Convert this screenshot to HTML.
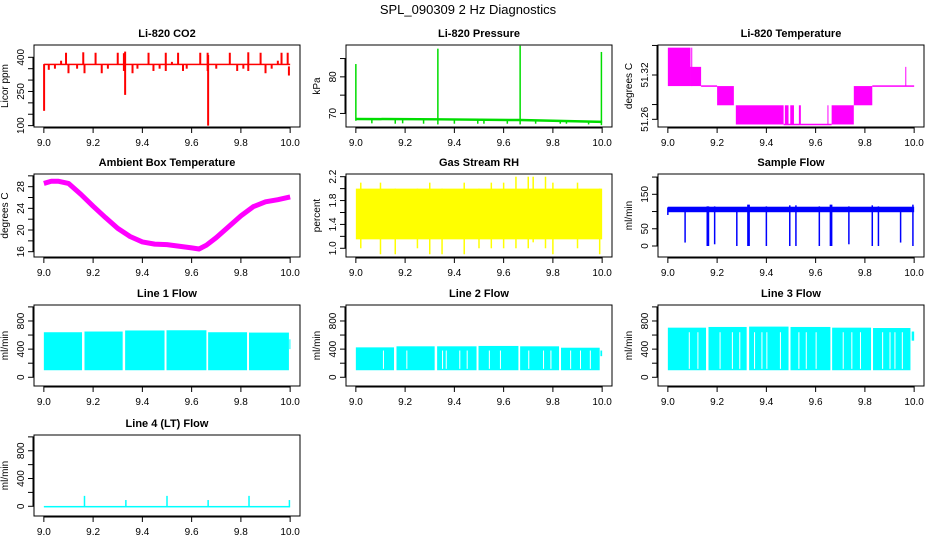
<!DOCTYPE html>
<html><head><meta charset="utf-8"><style>
body{margin:0;background:#fff}
svg{display:block;font-family:"Liberation Sans",Arial,sans-serif}
</style></head><body>
<svg id="c" width="936" height="540" viewBox="0 0 936 540">
<rect width="936" height="540" fill="#fff"/>
<text x="468" y="14" text-anchor="middle" font-size="13">SPL_090309  2 Hz Diagnostics</text>
</svg>
<script>
// ---- data (x in hours-ish units 9..10) ----
const xTicks = [9.0, 9.2, 9.4, 9.6, 9.8, 10.0];
const xTickLabels = ["9.0", "9.2", "9.4", "9.6", "9.8", "10.0"];

// CO2
const co2Base = [[9.0, 10.0, 366, 372]];
const co2Spikes = [[9.001,165,370],[9.09,370,420],[9.16,370,422],[9.165,330,370],[9.21,370,420],[9.30,370,420],[9.325,340,418],[9.33,235,425],[9.425,370,420],[9.495,340,420],[9.545,370,420],[9.635,370,420],[9.665,340,420],[9.667,100,410],[9.755,370,420],[9.83,340,422],[9.88,370,420],[9.965,370,420],[9.99,370,420],[9.995,320,360],[9.02,345,370],[9.045,350,370],[9.1,330,370],[9.135,350,370],[9.235,330,370],[9.26,350,370],[9.36,330,370],[9.38,350,370],[9.445,340,370],[9.47,350,370],[9.565,340,370],[9.58,350,370],[9.7,350,370],[9.785,340,370],[9.81,350,370],[9.9,330,370],[9.925,350,370],[9.07,370,385],[9.52,370,380],[9.95,370,385]];

// Pressure
const presLine = [[9.0,68.5],[9.33,68.4],[9.667,68.2],[10.0,67.7]];
const presSpikes = [[9.0,68,83.5],[9.333,67,87.7],[9.667,67,88.5],[9.997,66.8,86.8],[9.065,67.3,68.5],[9.16,67.2,68.5],[9.19,67.3,68.5],[9.275,67.2,68.5],[9.4,67.2,68.5],[9.495,67.2,68.5],[9.52,67.2,68.5],[9.615,67.2,68.3],[9.73,67.2,68.3],[9.83,67.2,68.2],[9.855,67.2,68.2],[9.945,67.0,68]];

// Li-820 temperature: [x0,x1,lo,hi]
const tempBands = [[9.0,9.092,51.305,51.357],[9.092,9.135,51.305,51.331],[9.135,9.2,51.304,51.306],[9.2,9.268,51.279,51.305],[9.276,9.47,51.253,51.279],[9.475,9.49,51.253,51.279],[9.497,9.512,51.253,51.279],[9.532,9.54,51.253,51.279],[9.47,9.665,51.252,51.254],[9.648,9.652,51.253,51.279],[9.665,9.755,51.253,51.279],[9.755,9.83,51.279,51.305],[9.83,10.0,51.304,51.306],[9.964,9.966,51.305,51.331],[9.095,9.097,51.305,51.357]];

// Ambient box temperature
const ambX = [9.0,9.03,9.06,9.1,9.15,9.2,9.25,9.3,9.35,9.4,9.45,9.5,9.55,9.6,9.63,9.66,9.7,9.75,9.8,9.85,9.9,9.95,10.0];
const ambY = [28.6,29.0,29.0,28.6,26.6,24.4,22.3,20.3,18.8,17.8,17.4,17.3,17.0,16.7,16.5,17.2,18.6,20.6,22.6,24.3,25.2,25.6,26.1];

// Gas stream RH
const rhBands = [[9.0,10.0,1.15,2.0]];
const rhSpikes = [[9.02,1.0,2.1],[9.1,0.9,2.1],[9.16,0.9,2.0],[9.3,0.9,2.1],[9.35,0.9,2.0],[9.44,0.9,2.1],[9.55,1.0,2.1],[9.65,1.0,2.2],[9.7,1.0,2.2],[9.72,1.1,2.2],[9.77,1.0,2.2],[9.8,0.9,2.1],[9.9,1.0,2.1],[9.99,0.9,2.0],[9.25,1.0,2.0],[9.5,1.0,2.0],[9.6,1.0,2.1]];

// Sample flow
const sfBands = [[9.0,10.0,98,114]];
const sfSpikes = [[9.07,10,110],[9.16,0,115],[9.165,0,115],[9.19,5,115],[9.28,0,112],[9.325,0,120],[9.33,0,120],[9.4,0,115],[9.495,0,118],[9.52,0,118],[9.615,0,115],[9.66,0,120],[9.665,0,120],[9.735,5,115],[9.83,0,118],[9.855,0,115],[9.945,10,112],[9.995,0,120],[9.0,90,112]];

// Line flows: [x0,x1,lo,hi]
const line1Bands = [[9.0,9.155,100,640],[9.165,9.32,100,650],[9.33,9.49,100,665],[9.498,9.66,100,668],[9.667,9.825,100,640],[9.833,9.995,100,635],[9.997,10.0,400,540]];
const line2Bands = [[9.0,9.155,100,425],[9.165,9.32,100,440],[9.33,9.49,100,440],[9.498,9.66,100,445],[9.667,9.825,100,440],[9.833,9.99,100,420],[9.993,10.0,300,380]];
const line2Gaps = [9.11,9.205,9.35,9.365,9.42,9.45,9.54,9.585,9.7,9.76,9.79,9.87,9.91,9.95];
const line3Bands = [[9.0,9.155,100,705],[9.165,9.32,100,715],[9.33,9.49,100,720],[9.498,9.66,100,715],[9.667,9.825,100,705],[9.833,9.985,100,700],[9.99,10.0,520,650]];
const line3Gaps = [9.085,9.12,9.21,9.26,9.29,9.35,9.38,9.4,9.455,9.53,9.56,9.6,9.71,9.745,9.78,9.87,9.9,9.92,9.95];
const line4Base = [[9.0,10.0,-15,5]];
const line4Spikes = [[9.165,0,150],[9.333,0,90],[9.5,0,150],[9.667,0,90],[9.833,0,150],[9.997,0,90]];

// ---- drawing ----
const NS = "http://www.w3.org/2000/svg";
const svg = document.getElementById('c');
function mk(tag, attrs, parent) {
  const e = document.createElementNS(NS, tag);
  for (const k in attrs) e.setAttribute(k, attrs[k]);
  (parent || svg).appendChild(e);
  return e;
}
function panel(cfg) {
  const g = mk('g', {});
  
  
  const L = cfg.box[0], T = cfg.box[1], R = cfg.box[2], B = cfg.box[3];
  const sx = v => L + (v - 8.96) / 1.08 * (R - L);
  const sy = v => B - (v - cfg.yd[0]) / (cfg.yd[1] - cfg.yd[0]) * (B - T);
  const t = mk('text', {x: (L + R) / 2, y: T - 8, 'text-anchor': 'middle', 'font-size': 11, 'font-weight': 'bold'}, g);
  t.textContent = cfg.title;
  
  
  const marks = mk('g', {}, g);
  
  
  (cfg.bands || []).forEach(b => {
    const y1 = sy(b[3]), y2 = sy(b[2]);
    const r = mk('rect', {x: sx(b[0]), y: y1, width: Math.max(1, sx(b[1]) - sx(b[0])), height: Math.max(1.5, y2 - y1), fill: cfg.col}, marks);
    
    
  });
  (cfg.gaps || []).forEach(x => {
    const r = mk('rect', {x: sx(x), y: sy(cfg.gapHi), width: 1, height: sy(120) - sy(cfg.gapHi), fill: '#fff'}, marks);
    
    
  });
  (cfg.spikes || []).forEach(s => {
    const l = mk('line', {x1: sx(s[0]), x2: sx(s[0]), y1: sy(s[1]), y2: sy(s[2]), stroke: cfg.col, 'stroke-width': cfg.sw || 1.5}, marks);
    
    
  });
  if (cfg.lineX) {
    const p = mk('polyline', {points: cfg.lineX.map((x, i) => sx(x) + ',' + sy(cfg.lineY[i])).join(' '), fill: 'none', stroke: cfg.col, 'stroke-width': cfg.lw, 'stroke-linejoin': 'round'}, marks);
    
    
  }
  const box = mk('rect', {x: L, y: T, width: R - L, height: B - T, fill: 'none', stroke: '#000', 'stroke-width': 1}, g);
  
  
  // x axis
  const xa = mk('g', {}, g);
  
  
  mk('line', {x1: sx(xTicks[0]), x2: sx(xTicks[xTicks.length - 1]), y1: B + 1, y2: B + 1, stroke: '#000'}, xa);
  xTicks.forEach((v, i) => {
    mk('line', {x1: sx(v), x2: sx(v), y1: B, y2: B + 6, stroke: '#000'}, xa);
    const tx = mk('text', {x: sx(v), y: B + 19, 'text-anchor': 'middle', 'font-size': 10}, xa);
    tx.textContent = xTickLabels[i];
    
    
  });
  // y axis
  const ya = mk('g', {}, g);
  
  
  const yt = cfg.yt;
  mk('line', {x1: L - 1, x2: L - 1, y1: sy(yt[0]), y2: sy(yt[yt.length - 1]), stroke: '#000'}, ya);
  yt.forEach(v => mk('line', {x1: L - 6, x2: L, y1: sy(v), y2: sy(v), stroke: '#000'}, ya));
  cfg.yl.forEach(v => {
    const y = sy(v), x = L - 10;
    const tx = mk('text', {x: x, y: y, 'text-anchor': 'middle', 'font-size': 10, transform: 'rotate(-90 ' + x + ' ' + y + ')'}, ya);
    tx.textContent = cfg.fmt ? cfg.fmt(v) : String(v);
    
    
  });
  const yx = L - 26, yy = (T + B) / 2;
  const yl = mk('text', {x: yx, y: yy, 'text-anchor': 'middle', 'font-size': 10, transform: 'rotate(-90 ' + yx + ' ' + yy + ')'}, g);
  yl.textContent = cfg.ylab;
  
  
}
const C = [34, 346, 658], W = 266;
const Rw = [[45, 127], [174, 257], [305, 386], [435, 516]];
function bx(c, r) { return [C[c], Rw[r][0], C[c] + W, Rw[r][1]]; }
const flowT = [0, 200, 400, 600, 800, 1000], flowL = [0, 400, 800];

panel({name: 'co2', title: 'Li-820 CO2', box: bx(0, 0), yd: [94, 454], yt: [100, 150, 200, 250, 300, 350, 400], yl: [100, 250, 400], ylab: 'Licor ppm', col: '#f00', bands: co2Base, spikes: co2Spikes, sw: 2});
panel({name: 'pressure', title: 'Li-820 Pressure', box: bx(1, 0), yd: [66.3, 88.7], yt: [70, 75, 80, 85], yl: [70, 80], ylab: 'kPa', col: '#00dd00', lineX: presLine.map(p => p[0]), lineY: presLine.map(p => p[1]), lw: 2.5, spikes: presSpikes, sw: 1.5});
panel({name: 'li820-temperature', title: 'Li-820 Temperature', box: bx(2, 0), yd: [51.2496, 51.3606], yt: [51.26, 51.28, 51.32, 51.36], yl: [51.26, 51.32], fmt: v => v.toFixed(2), ylab: 'degrees C', col: '#f0f', bands: tempBands});
panel({name: 'ambient-temperature', title: 'Ambient Box Temperature', box: bx(0, 1), yd: [15.02, 30.34], yt: [16, 18, 20, 22, 24, 26, 28, 30], yl: [16, 20, 24, 28], ylab: 'degrees C', col: '#f0f', lineX: ambX, lineY: ambY, lw: 5});
panel({name: 'gas-rh', title: 'Gas Stream RH', box: bx(1, 1), yd: [0.854, 2.245], yt: [1.0, 1.2, 1.4, 1.6, 1.8, 2.0, 2.2], yl: [1.0, 1.4, 1.8, 2.2], fmt: v => v.toFixed(1), ylab: 'percent', col: '#ffff00', bands: rhBands, spikes: rhSpikes, sw: 1.5});
panel({name: 'sample-flow', title: 'Sample Flow', box: bx(2, 1), yd: [-31.9, 208.9], yt: [0, 50, 100, 150, 200], yl: [0, 50, 150], ylab: 'ml/min', col: '#0000ff', bands: sfBands, spikes: sfSpikes, sw: 1.5});
panel({name: 'line1-flow', title: 'Line 1 Flow', box: bx(0, 2), yd: [-124, 1027], yt: flowT, yl: flowL, ylab: 'ml/min', col: '#00ffff', bands: line1Bands});
panel({name: 'line2-flow', title: 'Line 2 Flow', box: bx(1, 2), yd: [-124, 1027], yt: flowT, yl: flowL, ylab: 'ml/min', col: '#00ffff', bands: line2Bands, gaps: line2Gaps, gapHi: 380});
panel({name: 'line3-flow', title: 'Line 3 Flow', box: bx(2, 2), yd: [-124, 1027], yt: flowT, yl: flowL, ylab: 'ml/min', col: '#00ffff', bands: line3Bands, gaps: line3Gaps, gapHi: 640});
panel({name: 'line4-flow', title: 'Line 4 (LT) Flow', box: bx(0, 3), yd: [-140, 1027], yt: flowT, yl: flowL, ylab: 'ml/min', col: '#00ffff', bands: line4Base, spikes: line4Spikes, sw: 1.5});
</script>
</body></html>
